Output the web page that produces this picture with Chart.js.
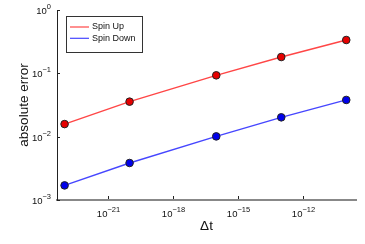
<!DOCTYPE html>
<html><head><meta charset="utf-8">
<script src="https://cdn.jsdelivr.net/npm/chart.js@4"></script>
<style>html,body{margin:0;padding:0;background:#fff}#c{display:block}</style>
</head><body>
<canvas id="c" width="365" height="244"></canvas>
<script>
const dtValues = [1e-23, 1e-20, 1e-16, 1e-13, 1e-10];
const spinUp = [0.0158, 0.0357, 0.093, 0.181, 0.336];
const spinDown = [0.0017, 0.00384, 0.0101, 0.0202, 0.038];
const seriesLabels = ['Spin Up', 'Spin Down'];
const xTickExps = [-21, -18, -15, -12];
const yTickExps = [-3, -2, -1, 0];
const xTitle = 'Δt';
const yTitle = 'absolute error';

const FONT = "'Liberation Sans', Arial, sans-serif";
const lineColors = ['rgb(255,70,70)', 'rgb(70,70,255)'];
const markColors = ['rgb(230,0,0)', 'rgb(0,0,235)'];

function drawPow(ctx, base, exp, x, y, align){
  ctx.font = "9.5px " + FONT;
  const wb = ctx.measureText(base).width;
  ctx.font = "7.5px " + FONT;
  const we = ctx.measureText(exp).width;
  const total = wb + we;
  let x0 = align === 'right' ? x - total : (align === 'center' ? x - total/2 : x);
  ctx.textBaseline = 'alphabetic';
  ctx.textAlign = 'left';
  ctx.font = "9.5px " + FONT;
  ctx.fillText(base, x0, y + 3.5);
  ctx.font = "7.5px " + FONT;
  ctx.fillText(exp, x0 + wb, y - 1.5);
}

const decor = {
  id:'decor',
  afterDraw(chart){
    const ctx = chart.ctx, a = chart.chartArea;
    const xs = chart.scales.x, ys = chart.scales.y;
    ctx.save();
    ctx.strokeStyle = '#222'; ctx.lineWidth = 1;
    ctx.fillStyle = '#111';
    xs.ticks.forEach(t=>{
      const px = Math.round(xs.getPixelForValue(t.value))+0.5;
      ctx.beginPath(); ctx.moveTo(px, a.bottom-1); ctx.lineTo(px, a.bottom-4); ctx.stroke();
      drawPow(ctx, '10', String(Math.round(Math.log10(t.value))).replace('-', '−'), px, 213, 'center');
    });
    ys.ticks.forEach(t=>{
      const py = Math.round(ys.getPixelForValue(t.value))+0.5;
      ctx.beginPath(); ctx.moveTo(a.left, py); ctx.lineTo(a.left+3, py); ctx.stroke();
      drawPow(ctx, '10', String(Math.round(Math.log10(t.value))).replace('-', '−'), a.left-6, py, 'right');
    });
    ctx.fillStyle = '#111';
    ctx.font = "13.5px " + FONT;
    ctx.textAlign = 'center'; ctx.textBaseline = 'middle';
    ctx.fillText(xTitle, (a.left+a.right)/2, 226);
    ctx.save();
    ctx.translate(24, (a.top+a.bottom)/2);
    ctx.rotate(-Math.PI/2);
    ctx.fillText(yTitle, 0, 0);
    ctx.restore();
    const lx = 66.5, ly = 16.5, lw = 76, lh = 36;
    ctx.fillStyle = '#fff';
    ctx.fillRect(lx, ly, lw, lh);
    ctx.strokeStyle = '#333'; ctx.lineWidth = 1;
    ctx.strokeRect(lx, ly, lw, lh);
    ctx.font = "9px " + FONT;
    ctx.textAlign = 'left'; ctx.textBaseline = 'middle';
    chart.data.datasets.forEach((ds,i)=>{
      const yy = 27 + i*11.3;
      ctx.strokeStyle = lineColors[i]; ctx.lineWidth = 1.2;
      ctx.beginPath(); ctx.moveTo(70, yy); ctx.lineTo(89, yy); ctx.stroke();
      ctx.fillStyle = '#111';
      ctx.fillText(ds.label, 92, yy);
    });
    ctx.restore();
  }
};

new Chart(document.getElementById('c'), {
  type:'line',
  data:{
    datasets:[
      {label:seriesLabels[0], data:dtValues.map((x,i)=>({x, y:spinUp[i]})),
       borderColor:lineColors[0], borderWidth:1.4, backgroundColor:markColors[0],
       pointBackgroundColor:markColors[0],
       pointBorderColor:'#222', pointBorderWidth:1, pointRadius:3.8, tension:0},
      {label:seriesLabels[1], data:dtValues.map((x,i)=>({x, y:spinDown[i]})),
       borderColor:lineColors[1], borderWidth:1.4, backgroundColor:markColors[1],
       pointBackgroundColor:markColors[1],
       pointBorderColor:'#222', pointBorderWidth:1, pointRadius:3.8, tension:0}
    ]
  },
  options:{
    responsive:false, animation:false,
    layout:{padding:{top:10, right:9, left:0, bottom:0}},
    plugins:{legend:{display:false}, tooltip:{enabled:false}},
    scales:{
      x:{type:'logarithmic', min:Math.pow(10,-23.35), max:Math.pow(10,-9.55),
        afterBuildTicks(s){ s.ticks = xTickExps.map(e=>({value:Math.pow(10,e)})); },
        afterFit(s){ s.height = 44; },
        grid:{display:false},
        border:{display:true, color:'#888', width:2},
        ticks:{display:false}
      },
      y:{type:'logarithmic', min:1e-3, max:1,
        afterBuildTicks(s){ s.ticks = yTickExps.map(e=>({value:Math.pow(10,e)})); },
        afterFit(s){ s.width = 57; },
        grid:{display:false},
        border:{display:true, color:'#222', width:1},
        ticks:{display:false}
      }
    }
  },
  plugins:[decor]
});
</script>
</body></html>
